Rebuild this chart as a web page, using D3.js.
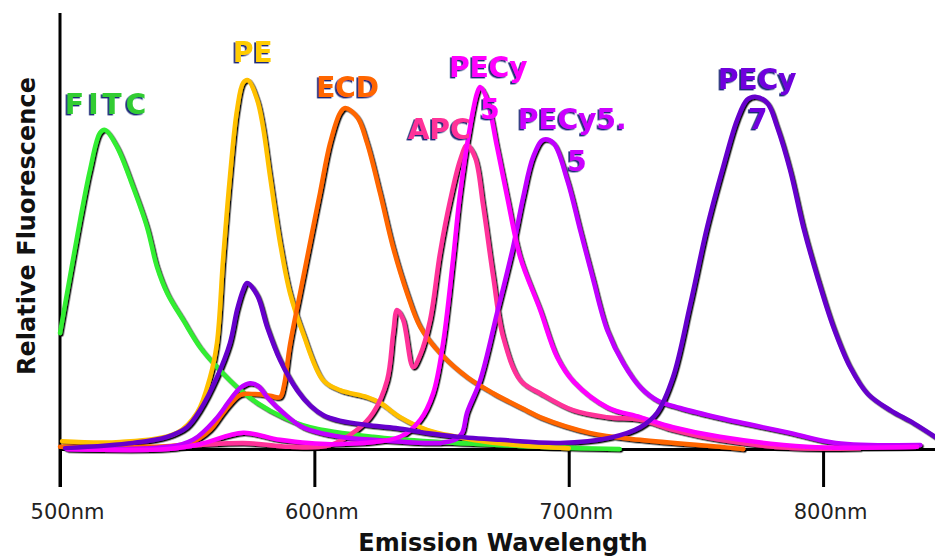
<!DOCTYPE html>
<html><head><meta charset="utf-8">
<script src="https://cdn.jsdelivr.net/npm/d3@7"></script>
<style>
html,body{margin:0;padding:0;background:#fff;}
svg{display:block;}
</style></head><body>
<svg id="chart" width="935" height="560"></svg>
<script>
// ---- data (wavelength in nm, relative fluorescence 0-100) ----
const seriesNames = ["FITC", "PE", "ECD", "APC", "PE-Cy5.5", "PE-Cy5", "PE-Cy7"];

const fitcNm  = [500, 503.9, 507.9, 511.8, 515.7, 517.7, 522.4, 528.7, 534.2, 538.1, 542.1, 548.4, 555.0, 561.7, 569.6, 577.5, 587.7, 598.3, 623.1, 649.4, 680.9, 704.5, 720];
const fitcVal = [26.6, 39.5, 52.5, 64.0, 72.5, 73.2, 69.3, 60.1, 50.9, 41.8, 35.8, 29.6, 23.4, 18.8, 14.2, 10.6, 7.3, 5.0, 2.8, 1.6, 0.7, 0.2, 0];

const peNm  = [500.8, 523.6, 546.0, 553.9, 559.0, 561.7, 564.1, 566.8, 569.6, 572.0, 573.9, 577.5, 579.8, 582.6, 586.5, 590.4, 595.5, 603.4, 610.1, 620.7, 625.8, 633.7, 644.3, 656.1, 667.9, 688.7, 700];
const peVal = [1.8, 1.6, 3.7, 8.3, 16.5, 24.3, 43.4, 62.4, 77.8, 84.0, 84.6, 80.1, 73.9, 62.4, 47.3, 35.8, 26.6, 15.8, 13.5, 11.9, 10.6, 7.3, 4.4, 2.8, 1.6, 0.5, 0.2];

const ecdNm  = [500, 535.4, 551.1, 559.0, 564.9, 570.8, 576.7, 582.6, 586.5, 588.1, 590.4, 594.4, 598.3, 602.2, 606.2, 610.1, 612.1, 616.8, 620.7, 625.8, 630.9, 636.4, 641.6, 649.4, 660.0, 670.3, 683.6, 688.7, 708.3, 728.1, 759.5, 768.6];
const ecdVal = [0.5, 0.5, 1.4, 4.4, 8.9, 12.4, 12.6, 12.2, 11.9, 14.7, 23.9, 35.8, 47.3, 58.7, 70.2, 77.1, 78.2, 76.2, 70.2, 58.7, 46.3, 35.8, 28.0, 22.0, 16.5, 12.8, 8.8, 7.3, 3.7, 2.1, 0.5, 0];

const apcNm  = [540, 572.0, 590.4, 606.2, 616.8, 623.1, 628.6, 631.0, 632.5, 634.9, 638.8, 641.6, 645.5, 649.4, 653.4, 657.3, 660.0, 663.2, 666.3, 670.3, 674.2, 680.9, 688.7, 701.7, 715.1, 728.1, 741.0, 759.5, 788.2, 814.6];
const apcVal = [0.2, 1.4, 0.5, 0.9, 4.4, 8.3, 15.8, 26.6, 31.9, 29.6, 18.8, 21.6, 29.6, 45.0, 57.1, 66.3, 69.7, 66.8, 56.0, 39.5, 25.7, 15.8, 12.8, 8.9, 7.3, 6.7, 4.4, 2.1, 0.2, 0.2];

const cy55Nm  = [502.8, 542.1, 552.3, 561.0, 566.8, 570.8, 574.7, 577.9, 581.4, 587.7, 595.5, 610.1, 623.1, 649.4, 655.3, 658.1, 660.0, 665.2, 671.8, 678.1, 682.1, 686.0, 689.9, 693.9, 699.4, 704.5, 709.3, 715.1, 721.4, 728.1, 734.7, 743.8, 759.5, 787.0, 805.0, 838.2];
const cy55Val = [0, 0.5, 2.1, 6.7, 11.2, 14.0, 15.1, 14.5, 11.9, 8.3, 5.0, 2.8, 2.1, 1.4, 2.1, 3.7, 8.3, 15.8, 31.2, 46.3, 57.8, 67.0, 70.9, 70.2, 61.7, 50.2, 39.5, 27.3, 19.7, 14.2, 11.2, 9.4, 7.1, 3.7, 1.4, 0.9];

const cy5Nm  = [502.8, 542.1, 555.0, 572.0, 586.5, 607.4, 633.7, 641.6, 646.7, 650.6, 654.5, 657.3, 661.2, 664.0, 665.2, 667.9, 671.8, 675.8, 680.9, 688.7, 695.4, 701.7, 715.1, 728.1, 741.0, 759.5, 793.7, 837.0];
const cy5Val = [0, 0, 1.1, 3.7, 2.1, 1.1, 2.8, 6.7, 12.8, 24.3, 43.4, 58.7, 73.9, 81.7, 83.0, 80.1, 69.3, 57.8, 44.0, 32.0, 21.1, 15.6, 9.6, 7.3, 5.0, 2.8, 0.5, 0.5];

const cy7Nm  = [502, 528.7, 542.1, 549.9, 555.0, 561.7, 566.8, 569.6, 572.0, 573.5, 577.5, 581.4, 586.5, 593.2, 598.3, 603.4, 610.0, 620.7, 632.0, 645.0, 656.1, 673.0, 696.6, 716.3, 728.1, 734.7, 741.0, 747.7, 754.4, 760.7, 766.2, 770.1, 773.3, 778.0, 781.9, 787.0, 792.2, 797.7, 804.0, 810.6, 817.3, 826.4, 835.4, 844.0];
const cy7Val = [0.2, 1.4, 2.8, 5.0, 8.9, 16.5, 24.3, 31.9, 36.5, 38.1, 35.3, 28.0, 20.4, 13.5, 10.0, 7.8, 6.5, 5.5, 4.8, 3.6, 2.8, 2.1, 1.4, 2.6, 5.0, 8.3, 16.5, 33.0, 50.9, 64.7, 75.5, 80.1, 80.8, 79.4, 73.9, 64.0, 50.9, 39.5, 28.0, 18.8, 12.8, 8.9, 6.0, 2.8];

const xTicks = [500, 600, 700, 800];

// label text lines and their anchors (in data units: nm, value)
const labelLines   = [["FITC"], ["PE"], ["ECD"], ["APC"], ["PECy5.", "5"], ["PECy", "5"], ["PECy", "7"]];
const labelAnchors = [
  [[502.0, 76.8]],
  [[568.0, 88.8]],
  [[600.7, 80.8]],
  [[636.8, 71.1]],
  [[680.1, 73.4], [699.4, 63.8]],
  [[653.0, 85.3], [665.2, 75.7]],
  [[758.7, 82.6], [770.5, 73.4]]
];

// ---- styles ----
const curveColors = ["#33ee33", "#ffc000", "#ff6600", "#ff3399", "#c000ff", "#ff00ff", "#6600cc"];
const labelColors = ["#33cc33", "#ffcc00", "#ff6600", "#ff3399", "#cc00ff", "#ff00ff", "#7000dd"];
const FONT = "'Comic Sans MS', 'DejaVu Sans', sans-serif";

const seriesNm  = [fitcNm, peNm, ecdNm, apcNm, cy55Nm, cy5Nm, cy7Nm];
const seriesVal = [fitcVal, peVal, ecdVal, apcVal, cy55Val, cy5Val, cy7Val];
const series = seriesNames.map((name, i) => ({
  name, color: curveColors[i],
  points: seriesNm[i].map((nm, j) => ({nm, v: seriesVal[i][j]}))
}));

const svg = d3.select("#chart");
const x = d3.scaleLinear().domain([500, 844]).range([60, 935]);
const y = d3.scaleLinear().domain([0, 100]).range([449, 13]);

const defs = svg.append("defs");
defs.append("filter").attr("id", "lineShadow").attr("x", "-5%").attr("y", "-5%").attr("width", "110%").attr("height", "110%")
  .append("feDropShadow").attr("dx", 1.4).attr("dy", 1.4).attr("stdDeviation", 0.3)
  .attr("flood-color", "#000").attr("flood-opacity", 0.95);
defs.append("filter").attr("id", "textShadow").attr("x", "-10%").attr("y", "-20%").attr("width", "120%").attr("height", "140%")
  .append("feDropShadow").attr("dx", -1.8).attr("dy", 1.4).attr("stdDeviation", 0.5)
  .attr("flood-color", "#1a2a77").attr("flood-opacity", 1);

// x axis
const xAxis = d3.axisBottom(x).tickValues(xTicks).tickFormat(d => d + "nm").tickSize(38).tickSizeOuter(0);
svg.append("g")
  .attr("transform", `translate(0,${y(0)})`)
  .call(xAxis)
  .call(g => {
    g.attr("font-family", FONT);
    g.select(".domain").attr("stroke", "#000").attr("stroke-width", 3);
    g.selectAll(".tick line").attr("stroke", "#000").attr("stroke-width", 3);
    g.selectAll(".tick text").attr("y", 70).attr("dy", 0).attr("dx", 7)
      .attr("font-size", 21).attr("fill", "#222");
  });

// y axis line
svg.append("line")
  .attr("x1", x(500)).attr("x2", x(500))
  .attr("y1", y(100)).attr("y2", y(0) + 38)
  .attr("stroke", "#000").attr("stroke-width", 3);

// curves
const line = d3.line().x(d => x(d.nm)).y(d => y(d.v)).curve(d3.curveCatmullRom.alpha(0.5));
svg.append("g").attr("filter", "url(#lineShadow)")
  .selectAll("path").data(series).join("path")
  .attr("d", d => line(d.points))
  .attr("fill", "none")
  .attr("stroke", d => d.color)
  .attr("stroke-width", 4.5)
  .attr("stroke-linejoin", "round")
  .attr("stroke-linecap", "round");

// labels
const lg = svg.append("g").attr("filter", "url(#textShadow)")
  .attr("font-family", FONT).attr("font-weight", "bold").attr("font-size", 28);
labelLines.forEach((lines, i) => {
  lines.forEach((t, k) => {
    lg.append("text")
      .attr("x", x(labelAnchors[i][k][0]))
      .attr("y", y(labelAnchors[i][k][1]))
      .attr("fill", labelColors[i])
      .attr("letter-spacing", t === "FITC" ? 4 : 0)
      .text(t);
  });
});

// axis titles
svg.append("text")
  .attr("x", 503).attr("y", 551)
  .attr("text-anchor", "middle")
  .attr("font-family", FONT).attr("font-weight", "bold").attr("font-size", 24)
  .attr("fill", "#111")
  .text("Emission Wavelength");

svg.append("text")
  .attr("transform", "translate(35,226) rotate(-90)")
  .attr("text-anchor", "middle")
  .attr("font-family", FONT).attr("font-weight", "bold").attr("font-size", 24)
  .attr("fill", "#111")
  .text("Relative Fluorescence");
</script>
</body></html>
